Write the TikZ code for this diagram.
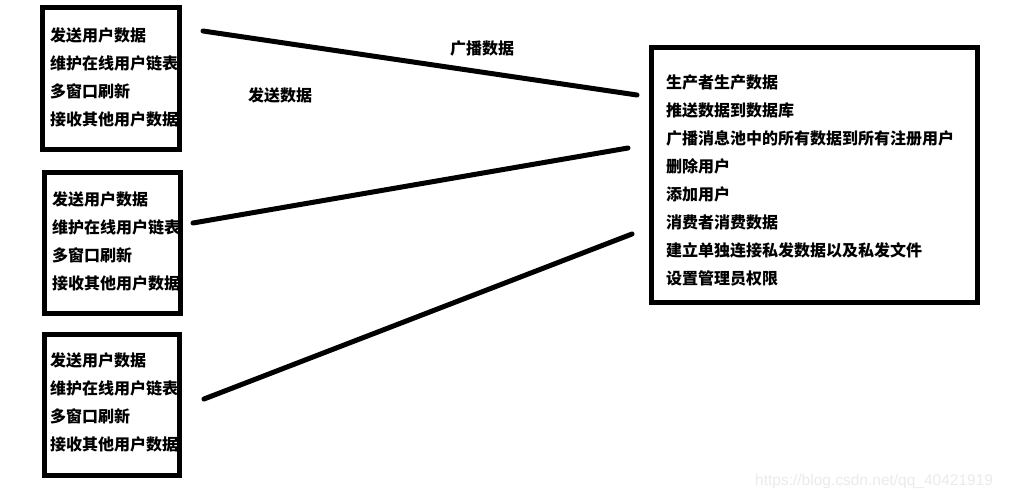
\documentclass[tikz,border=0pt]{standalone}
\usepackage{fontspec}
\newfontfamily\cjk{Noto Sans CJK SC}
\setmainfont{Liberation Sans}
\begin{document}
\begin{tikzpicture}[x=1pt,y=-1pt,
  boxframe/.style={draw=black,line width=5pt},
  itemtext/.style={anchor=west,inner sep=0pt,font=\cjk\bfseries\fontsize{16}{18}\selectfont},
  linktext/.style={inner sep=0pt,font=\cjk\bfseries\fontsize{16}{18}\selectfont},
  link/.style={line width=5pt,line cap=round}]
\useasboundingbox (0,0) rectangle (1009,498);
\fill[white] (0,0) rectangle (1009,498);
% left boxes
\draw[boxframe] (42.5,7.5) rectangle (179.5,149);
\draw[boxframe] (44.5,172.5) rectangle (180.5,313);
\draw[boxframe] (44,334) rectangle (179,475);
% right box
\draw[boxframe] (651.5,47.5) rectangle (977.5,302.5);
% box 1 texts
\node[itemtext] (a1) at (50,35) {发送用户数据};
\node[itemtext] (a2) at (50,63) {维护在线用户链表};
\node[itemtext] (a3) at (50,91) {多窗口刷新};
\node[itemtext] (a4) at (50,119) {接收其他用户数据};
% box 2 texts
\node[itemtext] (b1) at (52,199) {发送用户数据};
\node[itemtext] (b2) at (52,227) {维护在线用户链表};
\node[itemtext] (b3) at (52,255) {多窗口刷新};
\node[itemtext] (b4) at (52,283) {接收其他用户数据};
% box 3 texts
\node[itemtext] (c1) at (50,360) {发送用户数据};
\node[itemtext] (c2) at (50,388) {维护在线用户链表};
\node[itemtext] (c3) at (50,416) {多窗口刷新};
\node[itemtext] (c4) at (50,444) {接收其他用户数据};
% right box texts
\node[itemtext] (s1) at (666,82) {生产者生产数据};
\node[itemtext] (s2) at (666,110) {推送数据到数据库};
\node[itemtext] (s3) at (666,138) {广播消息池中的所有数据到所有注册用户};
\node[itemtext] (s4) at (666,166) {删除用户};
\node[itemtext] (s5) at (666,194) {添加用户};
\node[itemtext] (s6) at (666,222) {消费者消费数据};
\node[itemtext] (s7) at (666,250) {建立单独连接私发数据以及私发文件};
\node[itemtext] (s8) at (666,278) {设置管理员权限};
% connector ends
\coordinate (l1a) at (203,31);
\coordinate (l1b) at (637,95);
\coordinate (l2a) at (193,223);
\coordinate (l2b) at (628,148);
\coordinate (l3a) at (204,399);
\coordinate (l3b) at (632,234);
\draw[link] (l1a) -- (l1b);
\draw[link] (l2a) -- (l2b);
\draw[link] (l3a) -- (l3b);
% labels
\node[linktext] (bc) at (482,48) {广播数据};
\node[linktext] (sd) at (280,95) {发送数据};
% watermark
\node[anchor=west,inner sep=0pt,text=black!8,font=\fontsize{15.5}{18}\selectfont] (wm) at (755,481) {https://blog.csdn.net/qq\_40421919};
\end{tikzpicture}
\end{document}
